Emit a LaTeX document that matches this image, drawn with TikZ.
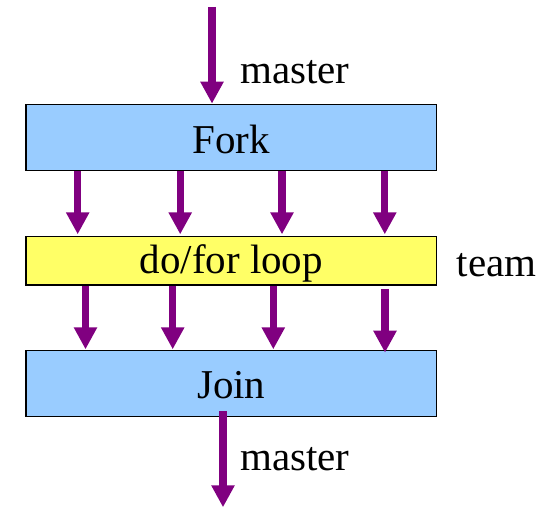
\documentclass[tikz,border=0pt]{standalone}
\usepackage{fontspec}
\setmainfont{Liberation Serif}
\usetikzlibrary{arrows.meta}
\definecolor{flowpurple}{HTML}{800080}
\definecolor{phaseblue}{HTML}{99CCFF}
\definecolor{loopyellow}{HTML}{FFFF66}
\begin{document}
\begin{tikzpicture}[x=1pt,y=-1pt,
  every node/.style={font=\rmfamily\fontsize{41}{49}\selectfont},
  phase/.style={draw=black, line width=1.3pt, inner sep=0pt,
    minimum width=410.7pt, align=center},
  flow/.style={draw=flowpurple, line width=7.3pt,
    -{Triangle[width=22pt,length=22pt]}},
  tag/.style={anchor=base west, inner sep=0pt}]
\useasboundingbox (0,0) rectangle (554,508);

% the three phases
\node[phase, fill=phaseblue, text height=49pt, text depth=17pt]
  (fork) at (231.3,137.3) {Fork};
\node[phase, fill=loopyellow, text height=36.6pt, text depth=11.7pt]
  (loop) at (231.3,260.85) {do/for loop};
\node[phase, fill=phaseblue, text height=47.6pt, text depth=18.2pt]
  (join) at (231.3,383.6) {Join};

% side labels
\node[tag] (mtop) at (240,84) {master};
\node[tag] (team) at (456.7,276.7) {team};
\node[tag] (mbot) at (240,470) {master};

% master thread enters the fork
\coordinate (in) at (212,7);
\draw[flow] (in) -- (in |- fork.north);

% fork spawns the team
\foreach \x [count=\i] in {77.7,180.2,282,384.8} {
  \coordinate (f\i) at (\x,0);
  \draw[flow] (f\i |- fork.south) -- ([yshift=1.7pt]f\i |- loop.north);
}

% team reaches the join
\foreach \x [count=\i] in {85.5,172.7,273.3} {
  \coordinate (j\i) at (\x,0);
  \draw[flow] (j\i |- loop.south) -- ([yshift=0.7pt]j\i |- join.north);
}
\coordinate (j4) at (385,0);
\draw[flow] ([yshift=-3.3pt]j4 |- loop.south) -- ([yshift=-2.6pt]j4 |- join.north);

% master thread leaves the join
\coordinate (out) at (223,507.3);
\draw[flow] ([yshift=5.8pt]out |- join.south) -- (out);
\end{tikzpicture}
\end{document}
